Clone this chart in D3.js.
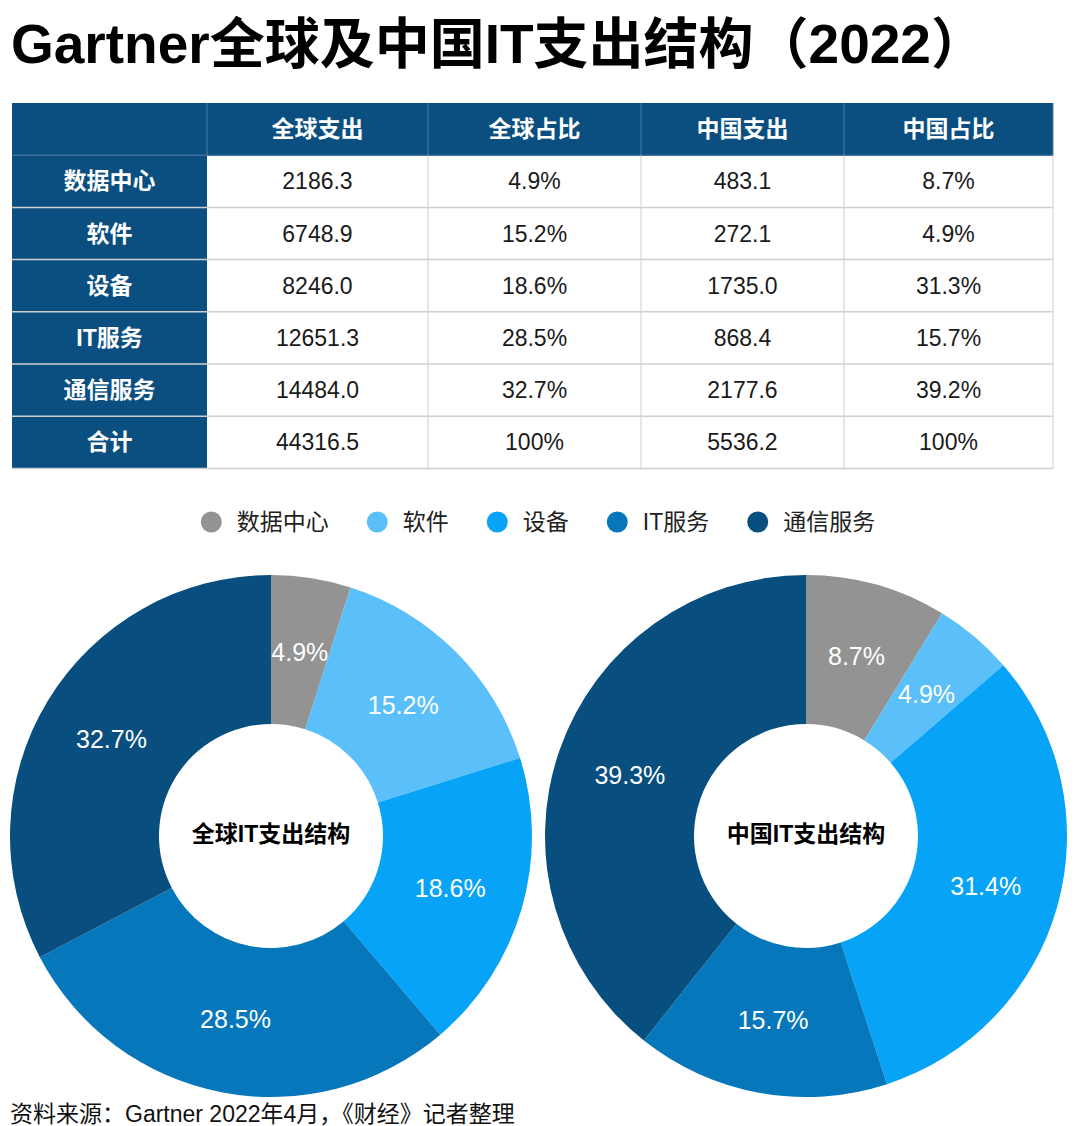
<!DOCTYPE html>
<html><head><meta charset="utf-8">
<script src="https://cdn.jsdelivr.net/npm/d3@7/dist/d3.min.js"></script>
<style>
html,body{margin:0;padding:0;background:#fff;}
svg{display:block;}
</style></head>
<body>
<svg id="c" width="1080" height="1126"></svg>
<script>
const title = "Gartner全球及中国IT支出结构（2022）";
const columns = ["全球支出","全球占比","中国支出","中国占比"];
const categories = ["数据中心","软件","设备","IT服务","通信服务"];
const globalSpend = [2186.3, 6748.9, 8246.0, 12651.3, 14484.0];
const globalShare = ["4.9%","15.2%","18.6%","28.5%","32.7%"];
const chinaSpend = [483.1, 272.1, 1735.0, 868.4, 2177.6];
const chinaShare = ["8.7%","4.9%","31.3%","15.7%","39.2%"];
const totalLabel = "合计";
const totalRow = ["44316.5","100%","5536.2","100%"];
const globalPieLabels = ["4.9%","15.2%","18.6%","28.5%","32.7%"];
const chinaPieLabels = ["8.7%","4.9%","31.4%","15.7%","39.3%"];
const pieTitles = ["全球IT支出结构","中国IT支出结构"];
const source = "资料来源：Gartner 2022年4月，《财经》记者整理";

const colors = ["#939393","#5bc0f9","#06a3f6","#0677bb","#084e7f"];
const headerBlue = "#0b4f81";
const FONT = "'Liberation Sans', Arial, 'Noto Sans CJK SC', sans-serif";

const svg = d3.select("#c").style("font-family", FONT);

// Title
svg.append("text").attr("x", 11).attr("y", 63)
  .attr("font-size", 55).attr("font-weight", "bold").attr("fill", "#000")
  .text(title);

// Table
const rows = categories.map((c,i)=>[c, globalSpend[i].toFixed(1), globalShare[i], chinaSpend[i].toFixed(1), chinaShare[i]]);
rows.push([totalLabel, ...totalRow]);
const colEdges = [12, 207, 428, 641, 844, 1053];
const tTop = 103, rowH = 52.2;
const nRows = rows.length + 1;
const y = d3.scaleLinear().domain([0, nRows]).range([tTop, tTop + rowH*nRows]);
const tbl = svg.append("g");
tbl.append("rect").attr("x", colEdges[0]).attr("y", y(0)).attr("width", colEdges[5]-colEdges[0]).attr("height", rowH).attr("fill", headerBlue);
tbl.append("rect").attr("x", colEdges[0]).attr("y", y(1)).attr("width", colEdges[1]-colEdges[0]).attr("height", rowH*rows.length).attr("fill", headerBlue);
for (let r=1; r<=nRows; r++) {
  tbl.append("line").attr("x1", colEdges[0]).attr("x2", colEdges[5]).attr("y1", y(r)).attr("y2", y(r))
    .attr("stroke", r===1 ? "#3f6f96" : "#cfcfcf").attr("stroke-width", 1.5);
}
colEdges.forEach((x,i)=>{
  if (i===0) return;
  tbl.append("line").attr("x1", x).attr("x2", x).attr("y1", y(0)).attr("y2", y(1)).attr("stroke", "#4a7aa2").attr("stroke-width", 1);
  if (i>1) tbl.append("line").attr("x1", x).attr("x2", x).attr("y1", y(1)).attr("y2", y(nRows)).attr("stroke", "#cfcfcf").attr("stroke-width", 1);
});
columns.forEach((h,i)=>{
  tbl.append("text").attr("x", (colEdges[i+1]+colEdges[i+2])/2).attr("y", y(0.5)+8)
    .attr("text-anchor","middle").attr("font-size",23).attr("font-weight","bold").attr("fill","#fff").text(h);
});
rows.forEach((row,r)=>{
  row.forEach((v,i)=>{
    tbl.append("text").attr("x", (colEdges[i]+colEdges[i+1])/2).attr("y", y(r+1.5)+8)
      .attr("text-anchor","middle").attr("font-size", 23)
      .attr("font-weight", i===0?"bold":"normal")
      .attr("fill", i===0?"#fff":"#1a1a1a").text(v);
  });
});

// Legend
const leg = svg.append("g");
let lx = 0;
categories.forEach((c,i)=>{
  const g = leg.append("g");
  g.append("circle").attr("cx", 10.5).attr("cy", 0).attr("r", 10.5).attr("fill", colors[i]);
  const t = g.append("text").attr("x", 36).attr("y", 8).attr("font-size", 23).attr("fill", "#222").text(c);
  const w = 36 + t.node().getComputedTextLength();
  g.attr("transform", `translate(${lx},0)`);
  lx += w + 38;
});
const legW = lx - 38;
leg.attr("transform", `translate(${538 - legW/2}, 522)`);

// Pies
const pie = d3.pie().sort(null).value(d=>d);
const arc = d3.arc().innerRadius(112).outerRadius(261);
[[globalSpend, globalPieLabels, 271], [chinaSpend, chinaPieLabels, 806]].forEach(([vals, labs, cx], k)=>{
  const g = svg.append("g").attr("transform", `translate(${cx},836)`);
  const arcs = pie(vals);
  g.selectAll("path").data(arcs).join("path").attr("d", arc).attr("fill", (d,i)=>colors[i]);
  g.selectAll("text.lab").data(arcs).join("text").attr("class","lab")
    .attr("transform", d=>{ const c = arc.centroid(d); return `translate(${c[0]},${c[1]+9})`; })
    .attr("text-anchor","middle").attr("font-size", 25).attr("fill","#fff")
    .text((d,i)=>labs[i]);
  g.append("text").attr("x",0).attr("y",6).attr("text-anchor","middle")
    .attr("font-size",23).attr("font-weight","bold").attr("fill","#000").text(pieTitles[k]);
});

// Source
svg.append("text").attr("x", 10).attr("y", 1122).attr("font-size", 23).attr("fill", "#111").text(source);
</script>
</body></html>
